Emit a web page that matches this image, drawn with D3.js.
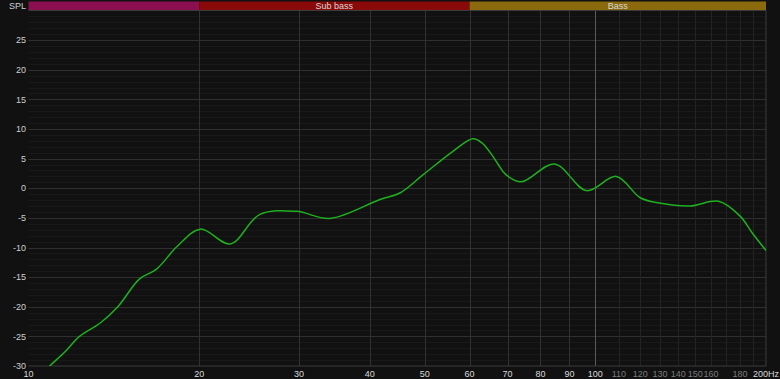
<!DOCTYPE html>
<html>
<head>
<meta charset="utf-8">
<script src="https://cdn.jsdelivr.net/npm/d3@7"></script>
<style>
  html, body { margin: 0; padding: 0; background: #111111; }
  svg { display: block; font-family: "Liberation Sans", Arial, sans-serif; }
</style>
</head>
<body>
<svg id="chart" width="780" height="379"></svg>
<script>
// ── DATA ──────────────────────────────────────────────────────
const freqs = [10, 10.9, 11.6, 12.3, 13.4, 14.4, 15.7, 16.8, 18.3, 20.1, 22.7,
  25.6, 29.7, 34, 41.7, 45.2, 49.7, 56, 60.8, 63, 65.5, 67.4, 69.5, 74.1, 84.7, 96.5, 108.9, 120,
  129.7, 146.7, 165, 180, 189, 200];
const spl = [-33.5, -30, -27.6, -25.0, -22.7, -19.9, -15.3, -13.7, -9.8, -6.9, -9.4,
  -4.4, -3.9, -5.1, -1.9, -0.8, 2.3, 6.2, 8.35, 7.7, 5.8, 4.0, 2.3, 1.1, 4.1, -0.4, 2.0, -1.6,
  -2.5, -3.0, -2.2, -4.7, -7.5, -10.5];

const bandNames  = ["", "Sub bass", "Bass"];
const bandStarts = [10, 20, 60];
const bandEnds   = [20, 60, 200];

const xTicks     = [10, 20, 30, 40, 50, 60, 70, 80, 90, 100, 110, 120, 130, 140, 150, 160, 180, 200];
const xGridLines = [20, 30, 40, 50, 60, 70, 80, 90, 100, 110, 120, 130, 140, 150, 160, 170, 180, 190];
const yTicks     = [25, 20, 15, 10, 5, 0, -5, -10, -15, -20, -25, -30];

// ── LAYOUT ────────────────────────────────────────────────────
const plotLeft = 28.5, plotRight = 766, plotTop = 10.5, plotBottom = 366;
const bandColors = ["#8c0f52", "#8a0a0a", "#8a6a0c"];

const svg = d3.select("#chart");

const x = d3.scaleLog().domain([10, 200]).range([plotLeft, plotRight]);
const y = d3.scaleLinear().domain([-30, 30]).range([plotBottom, plotTop]);

svg.append("rect")
  .attr("width", 780).attr("height", 379)
  .attr("fill", "#111111");

// ── GRID ──────────────────────────────────────────────────────
const grid = svg.append("g");

// minor horizontal lines every 1 dB
grid.selectAll(".hminor")
  .data(d3.range(-29, 30).filter(v => v % 5 !== 0))
  .join("line")
    .attr("x1", plotLeft).attr("x2", plotRight)
    .attr("y1", d => Math.round(y(d)) + 0.5)
    .attr("y2", d => Math.round(y(d)) + 0.5)
    .attr("stroke", "#191919");

grid.selectAll(".hmajor")
  .data(yTicks.filter(v => v !== -30))
  .join("line")
    .attr("x1", plotLeft).attr("x2", plotRight)
    .attr("y1", d => Math.round(y(d)) + 0.5)
    .attr("y2", d => Math.round(y(d)) + 0.5)
    .attr("stroke", "#303030");

grid.selectAll(".vline")
  .data(xGridLines)
  .join("line")
    .attr("x1", d => Math.round(x(d)) + 0.5)
    .attr("x2", d => Math.round(x(d)) + 0.5)
    .attr("y1", plotTop).attr("y2", plotBottom)
    .attr("stroke", d => d === 100 ? "#5a5a5a" : d > 100 ? "#232323" : "#313131");

// plot border
svg.append("path")
  .attr("d", `M${plotLeft},${plotTop}H${plotRight}V${plotBottom}H${plotLeft}`)
  .attr("fill", "none")
  .attr("stroke", "#3c3c3c");

// ── BANDS ─────────────────────────────────────────────────────
const bands = svg.append("g");
bands.selectAll("rect")
  .data(bandNames)
  .join("rect")
    .attr("x", (d, i) => x(bandStarts[i]))
    .attr("width", (d, i) => x(bandEnds[i]) - x(bandStarts[i]))
    .attr("y", 1.5)
    .attr("height", 8.5)
    .attr("fill", (d, i) => bandColors[i]);

bands.selectAll("text")
  .data(bandNames)
  .join("text")
    .attr("x", (d, i) => (x(bandStarts[i]) + x(bandEnds[i])) / 2)
    .attr("y", 6)
    .attr("dy", "0.35em")
    .attr("text-anchor", "middle")
    .attr("fill", "#d8d8d8")
    .style("font-size", "9px")
    .text(d => d);

// ── CURVE ─────────────────────────────────────────────────────
svg.append("clipPath").attr("id", "plotClip")
  .append("rect")
    .attr("x", plotLeft).attr("y", plotTop)
    .attr("width", plotRight - plotLeft).attr("height", plotBottom - plotTop);

const line = d3.line()
  .x((d, i) => x(freqs[i]))
  .y(d => y(d))
  .curve(d3.curveCatmullRom.alpha(0.5));

svg.append("path")
  .datum(spl)
  .attr("clip-path", "url(#plotClip)")
  .attr("d", line)
  .attr("fill", "none")
  .attr("stroke", "#1fb01f")
  .attr("stroke-width", 1.5);

// ── AXIS LABELS ───────────────────────────────────────────────
svg.selectAll(".ylab")
  .data(yTicks)
  .join("text")
    .attr("x", 26)
    .attr("y", d => y(d))
    .attr("dy", "0.35em")
    .attr("text-anchor", "end")
    .attr("fill", "#cfcfcf")
    .style("font-size", "9px")
    .text(d => d);

svg.append("text")
  .attr("x", 26).attr("y", 5.5)
  .attr("dy", "0.35em")
  .attr("text-anchor", "end")
  .attr("fill", "#cfcfcf")
  .style("font-size", "9px")
  .text("SPL");

svg.selectAll(".xlab")
  .data(xTicks)
  .join("text")
    .attr("x", d => d === 200 ? 753 : x(d))
    .attr("y", 373.5)
    .attr("dy", "0.35em")
    .attr("text-anchor", d => d === 200 ? "start" : "middle")
    .attr("fill", d => d > 100 && d < 200 ? "#7a7a7a" : "#d8d8d8")
    .style("font-size", "9px")
    .text(d => d === 200 ? "200Hz" : d);
</script>
</body>
</html>
